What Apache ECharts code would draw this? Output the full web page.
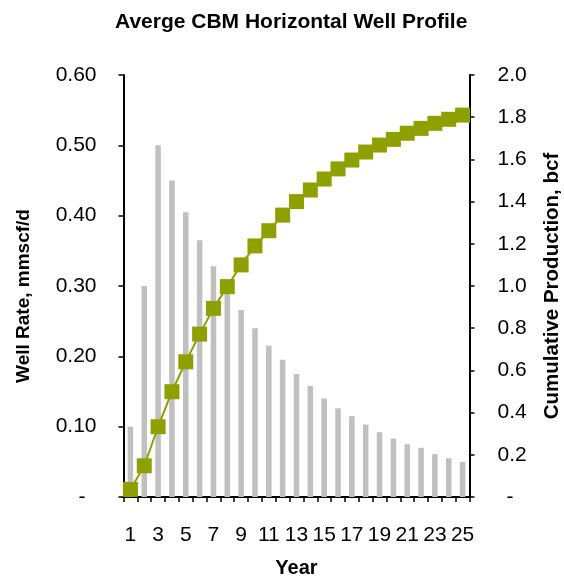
<!DOCTYPE html>
<html>
<head>
<meta charset="utf-8">
<script src="https://cdn.jsdelivr.net/npm/echarts@6/dist/echarts.min.js"></script>
<style>html,body{margin:0;padding:0;background:#fff}#c{width:564px;height:577px}</style>
</head>
<body>
<div id="c"></div>
<script>
const years = ['1','2','3','4','5','6','7','8','9','10','11','12','13','14','15','16','17','18','19','20','21','22','23','24','25'];
const wellRate = [0.100,0.300,0.500,0.450,0.405,0.365,0.328,0.295,0.266,0.240,0.215,0.195,0.175,0.158,0.140,0.126,0.115,0.103,0.092,0.083,0.075,0.070,0.061,0.055,0.050];
const cumulative = [0.036,0.148,0.333,0.499,0.641,0.772,0.894,0.997,1.100,1.190,1.262,1.336,1.400,1.455,1.507,1.555,1.597,1.635,1.668,1.695,1.724,1.747,1.771,1.790,1.810];

const FONT = '"Liberation Sans", Arial, sans-serif';
const chart = echarts.init(document.getElementById('c'), null, {renderer: 'canvas'});
const axisLineStyle = {color: '#000', width: 2};
chart.setOption({
  animation: false,
  backgroundColor: '#fff',
  title: {
    text: 'Averge CBM Horizontal Well Profile',
    left: 110, top: 7,
    textStyle: {fontFamily: FONT, fontSize: 21, fontWeight: 'bold', color: '#000'}
  },
  grid: {left: 123.5, right: 94.5, top: 75, bottom: 80, containLabel: false, outerBoundsMode: 'none'},
  xAxis: {
    type: 'category',
    data: years,
    name: 'Year',
    nameLocation: 'middle',
    nameGap: 61,
    nameTextStyle: {fontFamily: FONT, fontSize: 20, fontWeight: 'bold', color: '#000'},
    axisLine: {lineStyle: axisLineStyle},
    axisTick: {show: true, interval: 0, length: 5, lineStyle: {color: '#000', width: 1.5}},
    axisLabel: {interval: 1, margin: 28, fontFamily: FONT, fontSize: 21, color: '#000'},
    splitLine: {show: false}
  },
  yAxis: [{
    type: 'value', min: 0, max: 0.6, interval: 0.1,
    name: 'Well Rate, mmscf/d',
    nameLocation: 'middle', nameRotate: 90, nameGap: 90,
    nameTextStyle: {fontFamily: FONT, fontSize: 19, fontWeight: 'bold', color: '#000', padding: [0, 20, 0, 0]},
    axisLine: {show: true, lineStyle: axisLineStyle},
    axisTick: {show: true, length: 5, lineStyle: {color: '#000', width: 1.5}},
    axisLabel: {
      margin: 27, fontFamily: FONT, fontSize: 21, color: '#000',
      formatter: v => v === 0 ? '{d|-}' : v.toFixed(2),
      rich: {d: {fontFamily: FONT, fontSize: 21, color: '#000', padding: [0, 11, 0, 0]}}
    },
    splitLine: {show: false}
  }, {
    type: 'value', min: 0, max: 2.0, interval: 0.2,
    name: 'Cumulative Production, bcf',
    nameLocation: 'middle', nameRotate: 90, nameGap: 72,
    nameTextStyle: {fontFamily: FONT, fontSize: 20.5, fontWeight: 'bold', color: '#000'},
    axisLine: {show: true, lineStyle: axisLineStyle},
    axisTick: {show: true, length: 5, lineStyle: {color: '#000', width: 1.5}},
    axisLabel: {
      margin: 28, fontFamily: FONT, fontSize: 21, color: '#000',
      formatter: v => v === 0 ? '{d|-}' : v.toFixed(1),
      rich: {d: {fontFamily: FONT, fontSize: 21, color: '#000', padding: [0, 0, 0, 9]}}
    },
    splitLine: {show: false}
  }],
  series: [{
    type: 'bar',
    data: wellRate,
    yAxisIndex: 0,
    barWidth: '40%',
    itemStyle: {color: '#C0C0C0'},
    z: 1
  }, {
    type: 'line',
    data: cumulative,
    yAxisIndex: 1,
    symbol: 'rect',
    symbolSize: 15,
    showAllSymbol: true,
    lineStyle: {color: '#8DA000', width: 2},
    itemStyle: {color: '#8DA000'},
    z: 3
  }]
});
</script>
</body>
</html>
